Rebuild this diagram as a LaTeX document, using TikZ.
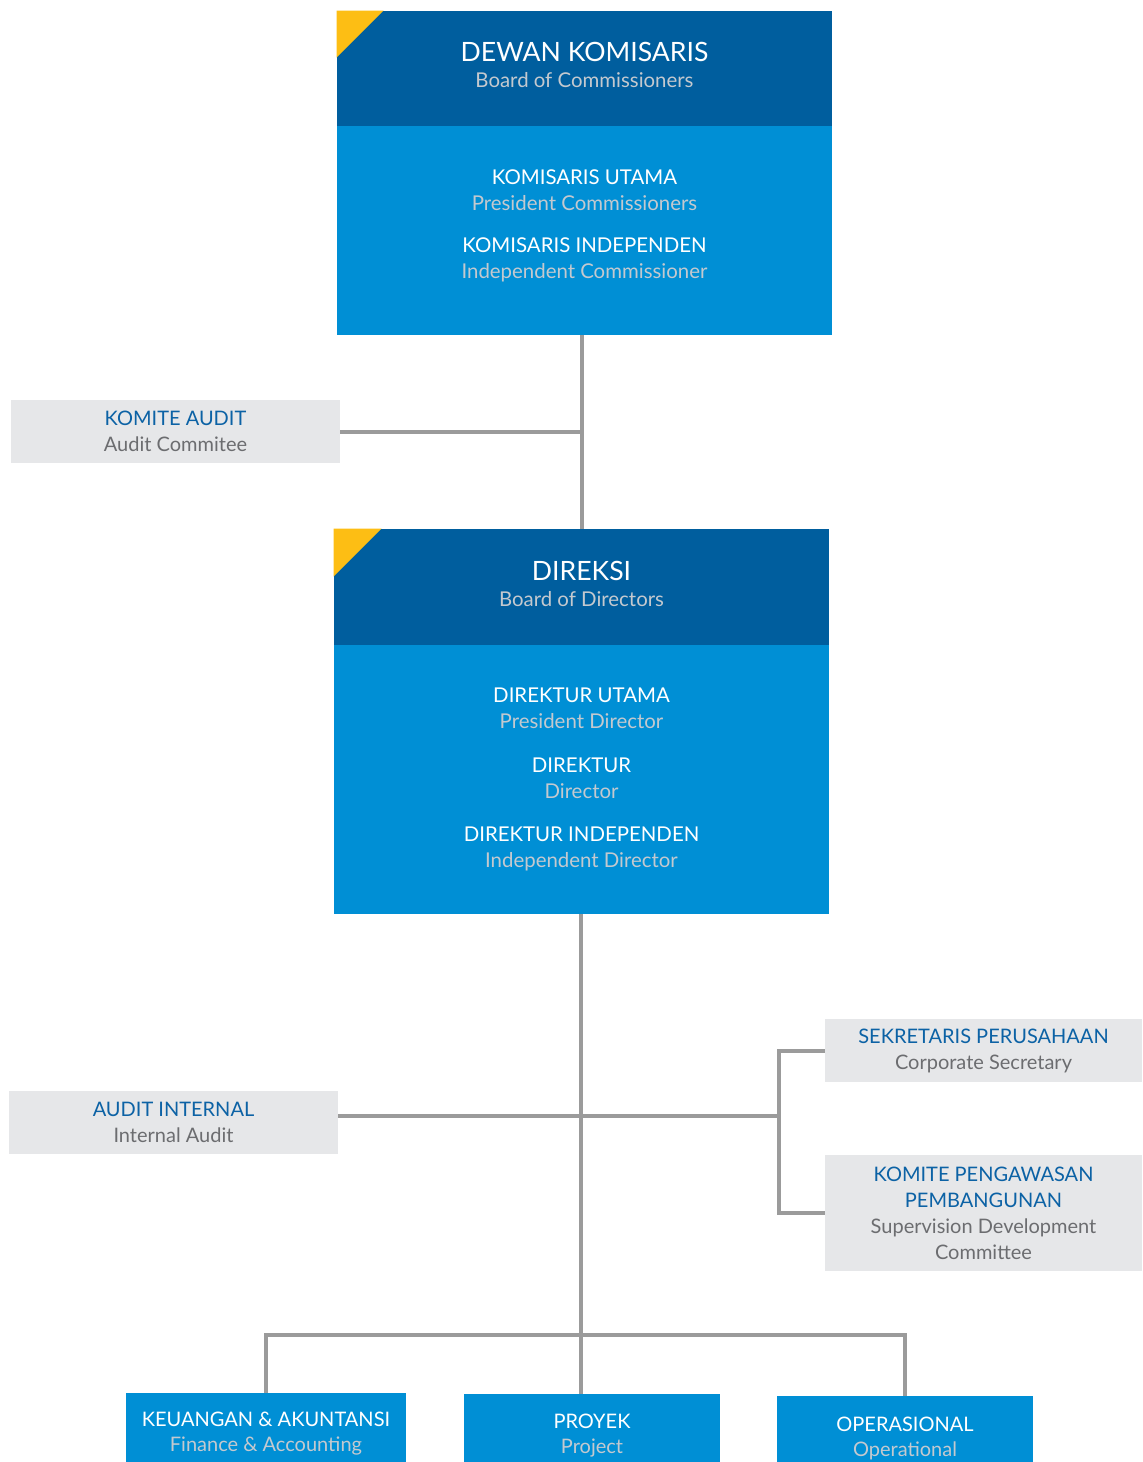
\documentclass[tikz,border=0pt]{standalone}
\usepackage{fontspec}
\setmainfont{Lato}
\usetikzlibrary{positioning, calc}
\definecolor{cDark}{RGB}{0,94,158}
\definecolor{cLight}{RGB}{0,143,213}
\definecolor{cGold}{RGB}{253,190,20}
\definecolor{cPanel}{RGB}{230,231,233}
\definecolor{cTitle}{RGB}{12,98,165}
\definecolor{cSub}{RGB}{108,109,112}
\definecolor{cPale}{RGB}{196,201,207}
\definecolor{cLine}{RGB}{155,155,155}
\newcommand{\onblue}[2]{{\color{white}#1}\\{\color{cPale}#2}}
\newcommand{\ongray}[2]{{\color{cTitle}#1}\\{\color{cSub}#2}}
\tikzset{
	headbox/.style={rectangle, fill=cDark, minimum width=247.5pt, minimum height=57.5pt, align=center, inner sep=0pt, font=\fontsize{13.3}{14}\selectfont},
	bodybox/.style={rectangle, fill=cLight, minimum width=247.5pt, align=center, inner sep=0pt, font=\fontsize{10.2}{13}\selectfont},
	sidebox/.style={rectangle, fill=cPanel, minimum height=31.5pt, align=center, inner sep=0pt, font=\fontsize{10}{13}\selectfont},
	unitbox/.style={rectangle, fill=cLight, minimum width=128pt, align=center, inner sep=0pt, font=\fontsize{10}{12.5}\selectfont},
	link/.style={draw=cLine, line width=2pt},
}
\begin{document}
\begin{tikzpicture}[x=0.5pt, y=-0.5pt]
	\useasboundingbox (0,0) rectangle (1142,1462);
	% board of commissioners
	\node[headbox] (dkhead) at (584.5,68.5) {{\color{white}DEWAN KOMISARIS}\\[-1pt]{\color{cPale}\fontsize{10.2}{13}\selectfont Board of Commissioners}\\[-10pt]};
	\node[bodybox, minimum height=104.5pt] (dkbody) at (584.5,230.5) {\onblue{KOMISARIS UTAMA}{President Commissioners}\\[8pt]\onblue{KOMISARIS INDEPENDEN}{Independent Commissioner}\\[-7pt]};
	\fill[cGold] (dkhead.north west) -- ++(47,0) -- ($(dkhead.north west)+(0,47)$) -- cycle;
	% board of directors
	\node[headbox, minimum height=58pt] (dirhead) at (581.5,587) {{\color{white}DIREKSI}\\[-1pt]{\color{cPale}\fontsize{10.2}{13}\selectfont Board of Directors}\\[-11pt]};
	\node[bodybox, minimum height=134.5pt] (dirbody) at (581.5,779.5) {\onblue{DIREKTUR UTAMA}{President Director}\\[8.7pt]\onblue{DIREKTUR}{Director}\\[8.7pt]\onblue{DIREKTUR INDEPENDEN}{Independent Director}};
	\fill[cGold] (dirhead.north west) -- ++(48,0) -- ($(dirhead.north west)+(0,48)$) -- cycle;
	% committees and staff units
	\node[sidebox, minimum width=164.5pt] (audit) at (175.5,431.5) {\ongray{KOMITE AUDIT}{Audit Commitee}};
	\node[sidebox, minimum width=164.5pt] (internal) at (173.5,1122.5) {\ongray{AUDIT INTERNAL}{Internal Audit}};
	\node[sidebox, minimum width=158.5pt] (secretary) at (983.5,1050.5) {\ongray{SEKRETARIS PERUSAHAAN}{Corporate Secretary}};
	\node[sidebox, minimum width=158.5pt, minimum height=58pt] (supervision) at (983.5,1213) {{\color{cTitle}KOMITE PENGAWASAN}\\{\color{cTitle}PEMBANGUNAN}\\{\color{cSub}Supervision Development}\\{\color{cSub}Committee}};
	% divisions (cut by the lower edge)
	\node[unitbox, minimum width=140pt, minimum height=41pt] (finance) at (266,1434) {\onblue{KEUANGAN \& AKUNTANSI}{Finance \& Accounting}};
	\node[unitbox, minimum height=42pt] (project) at (592,1436) {\onblue{PROYEK}{Project}};
	\node[unitbox, minimum height=42pt] (ops) at (905,1438) {\onblue{OPERASIONAL}{Operational}};
	% connectors
	\coordinate (bus) at (581,1335);
	\coordinate (fork) at (779,1116);
	\draw[link] (dkbody.south -| dirhead.north) -- (dirhead.north);
	\draw[link] (audit.east) -- (audit.east -| dirhead.north);
	\draw[link] (dirbody.south -| bus) -- (bus |- project.north);
	\draw[link] (internal.east |- fork) -- (fork);
	\draw[link] (secretary.west) -| (fork) |- (supervision.west);
	\draw[link] (finance.north) |- (bus) -| (ops.north);
\end{tikzpicture}
\end{document}
